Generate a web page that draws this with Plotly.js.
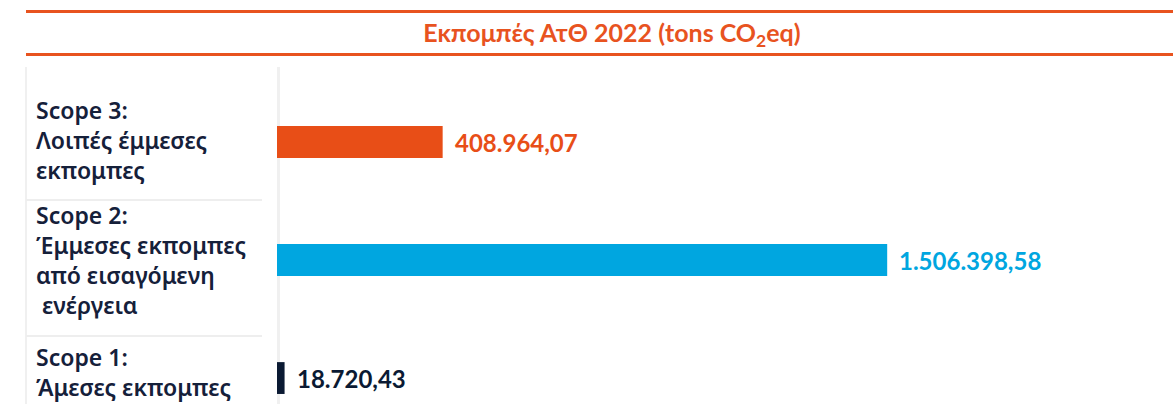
<!DOCTYPE html>
<html>
<head>
<meta charset="utf-8">
<script src="https://cdn.plot.ly/plotly-3.0.1.min.js"></script>
<style>
  html, body { margin: 0; padding: 0; background: #ffffff; }
  #chart { width: 1173px; height: 404px; }
</style>
</head>
<body>
<div id="chart"></div>
<script>
// ---- data ----
var categories = ["Scope 1", "Scope 2", "Scope 3"];
var categoryLabels = [
  "Scope 1:<br>Άμεσες εκπομπες",
  "Scope 2:<br>Έμμεσες εκπομπες<br>από εισαγόμενη<br> ενέργεια",
  "Scope 3:<br>Λοιπές έμμεσες<br>εκπομπες"
];
var values = [18720.43, 1506398.58, 408964.07];
var barColors = ["#0B1A33", "#00A6E0", "#E84E17"];
var chartTitle = "Εκπομπές ΑτΘ 2022 (tons CO<sub>2</sub>eq)";

// ---- helpers ----
function formatGreek(v) {
  var parts = v.toFixed(2).split(".");
  var intPart = parts[0].replace(/\B(?=(\d{3})+(?!\d))/g, ".");
  return intPart + "," + parts[1];
}

var W = 1173, H = 404;
var ML = 277, MT = 67;
var plotW = W - ML, plotH = H - MT;
function px2paperX(px) { return (px - ML) / plotW; }
function px2paperY(py) { return (H - py) / plotH; }

var orange = "#E8531F";
var labelColor = "#15203A";

var trace = {
  type: "bar",
  orientation: "h",
  y: categories,
  x: values,
  width: 0.27,
  marker: { color: barColors },
  hoverinfo: "none"
};

var labelShift = [6, 0, 2];
var annotations = [];
for (var i = 0; i < categories.length; i++) {
  annotations.push({
    x: values[i], y: categories[i], xref: "x", yref: "y",
    text: formatGreek(values[i]),
    showarrow: false, xanchor: "left", yanchor: "middle", xshift: 10,
    font: { family: "Lato, sans-serif", size: 24, color: barColors[i], weight: 700 }
  });
  annotations.push({
    x: px2paperX(34), y: categories[i], xref: "paper", yref: "y",
    text: categoryLabels[i], yshift: labelShift[i],
    showarrow: false, xanchor: "left", yanchor: "middle", align: "left",
    font: { family: "'Noto Sans', sans-serif", size: 23, color: labelColor, weight: 600 }
  });
}

var shapes = [
  { type: "line", xref: "paper", yref: "paper", x0: px2paperX(26), x1: 1, y0: px2paperY(11.5), y1: px2paperY(11.5),
    line: { color: orange, width: 3 } },
  { type: "line", xref: "paper", yref: "paper", x0: px2paperX(26), x1: 1, y0: px2paperY(54.5), y1: px2paperY(54.5),
    line: { color: orange, width: 3 } },
  { type: "line", xref: "paper", yref: "paper", x0: px2paperX(26), x1: px2paperX(26), y0: px2paperY(67), y1: 0,
    line: { color: "#F0F0F0", width: 2 } },
  { type: "line", xref: "paper", yref: "paper", x0: px2paperX(278.5), x1: px2paperX(278.5), y0: px2paperY(67), y1: 0,
    line: { color: "#F0F0F0", width: 3 }, layer: "below" },
  { type: "line", xref: "paper", yref: "paper", x0: px2paperX(26), x1: px2paperX(262), y0: px2paperY(200), y1: px2paperY(200),
    line: { color: "#EEEEEE", width: 2 } },
  { type: "line", xref: "paper", yref: "paper", x0: px2paperX(26), x1: px2paperX(262), y0: px2paperY(336), y1: px2paperY(336),
    line: { color: "#EEEEEE", width: 2 } }
];

var layout = {
  width: W, height: H,
  margin: { l: ML, r: 0, t: MT, b: 0, pad: 0 },
  paper_bgcolor: "#ffffff",
  plot_bgcolor: "#ffffff",
  showlegend: false,
  title: {
    text: chartTitle,
    x: 612 / W, xanchor: "center",
    y: 1 - 33 / H, yanchor: "middle",
    xref: "container", yref: "container",
    font: { family: "Lato, sans-serif", size: 25, color: orange, weight: 700 }
  },
  xaxis: {
    range: [0, 2212000], visible: false, fixedrange: true
  },
  yaxis: {
    type: "category",
    range: [-0.22, 2.636],
    showticklabels: false, ticks: "",
    showgrid: false, zeroline: false,
    showline: false,
    fixedrange: true
  },
  annotations: annotations,
  shapes: shapes
};

Plotly.newPlot("chart", [trace], layout, { displayModeBar: false, staticPlot: true });
</script>
</body>
</html>
